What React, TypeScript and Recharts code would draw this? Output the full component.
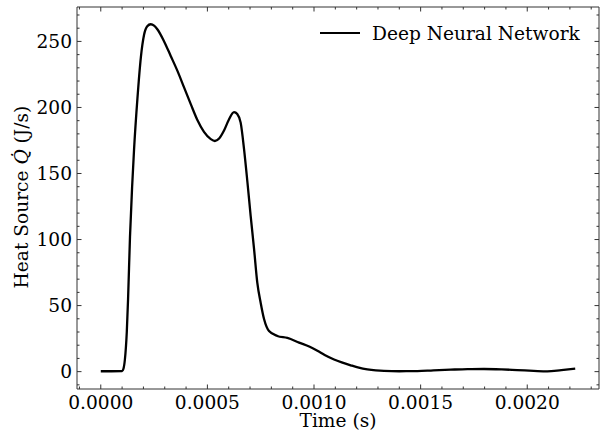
import React from "react";
import { LineChart, Line, XAxis, YAxis, Legend, Label } from "recharts";

// time in seconds, heat source in J/s
const timeS = [
  0, 0.00005, 0.0001, 0.000106, 0.000113, 0.000122, 0.000128, 0.000137,
  0.000147, 0.000156, 0.000172, 0.000188, 0.000203, 0.000218, 0.000234,
  0.00025, 0.000266, 0.000297, 0.000328, 0.00036, 0.000391, 0.000422,
  0.000453, 0.000484, 0.000516, 0.000535, 0.000555, 0.000578, 0.0006,
  0.000625, 0.00064, 0.000656, 0.000672, 0.000688, 0.000703, 0.000719,
  0.000734, 0.00075, 0.000766, 0.000789, 0.000828, 0.000875, 0.00093,
  0.00098, 0.001016, 0.00105, 0.001094, 0.00113, 0.001172, 0.00121, 0.00125,
  0.00129, 0.001328, 0.0014, 0.001485, 0.00156, 0.001641, 0.00172, 0.001797,
  0.00188, 0.001953, 0.00203, 0.002094, 0.00216, 0.002225,
];
const heatSource = [
  0.3, 0.3, 0.4, 2, 9, 30, 55, 102, 140, 168, 207, 238, 255, 261.5, 263, 262,
  259, 250, 239, 227.5, 215, 202.5, 190.5, 181.5, 176, 174.6, 176.5, 182.5,
  190.5, 196.5, 195, 188.5, 168.3, 143, 117.8, 92.6, 67.4, 52, 39.6, 30.7,
  27, 25.5, 22, 18.8, 15.8, 12.6, 9.2, 7, 4.8, 3, 1.7, 0.9, 0.5, 0.3, 0.4,
  1.0, 1.5, 1.9, 2.0, 1.7, 1.2, 0.6, 0.2, 1.2, 2.3,
];

const xTicks = [
  -0.0001, 0, 0.0001, 0.0002, 0.0003, 0.0004, 0.0005, 0.0006, 0.0007, 0.0008,
  0.0009, 0.001, 0.0011, 0.0012, 0.0013, 0.0014, 0.0015, 0.0016, 0.0017,
  0.0018, 0.0019, 0.002, 0.0021, 0.0022, 0.0023,
];
const yTicks = [
  -10, 0, 10, 20, 30, 40, 50, 60, 70, 80, 90, 100, 110, 120, 130, 140, 150,
  160, 170, 180, 190, 200, 210, 220, 230, 240, 250, 260, 270,
];

const data = timeS.map((t, i) => ({ t, q: heatSource[i] }));

const FONT = "'DejaVu Serif', serif";
const FS = 18.6;
const AX = "#333";
const isMajor = (v: number, step: number) =>
  Math.abs(v / step - Math.round(v / step)) < 1e-6;

const BottomTick = (props: any) => {
  const { x, y, payload } = props;
  const major = isMajor(payload.value, 0.0005);
  return (
    <g>
      <line x1={x} x2={x} y1={y} y2={y - (major ? 4.5 : 2.5)} stroke={AX} />
      {major && (
        <text x={x} y={y + 19.5} textAnchor="middle" fontSize={FS} fontFamily={FONT} fill="#000">
          {Math.abs(payload.value).toFixed(4)}
        </text>
      )}
    </g>
  );
};

const TopTick = (props: any) => {
  const { x, y, payload } = props;
  const major = isMajor(payload.value, 0.0005);
  return <line x1={x} x2={x} y1={y} y2={y + (major ? 4.5 : 2.5)} stroke={AX} />;
};

const LeftTick = (props: any) => {
  const { x, y, payload } = props;
  const major = isMajor(payload.value, 50);
  return (
    <g>
      <line x1={x} x2={x + (major ? 4.5 : 2.5)} y1={y} y2={y} stroke={AX} />
      {major && (
        <text x={x - 5} y={y + 6.8} textAnchor="end" fontSize={FS} fontFamily={FONT} fill="#000">
          {payload.value}
        </text>
      )}
    </g>
  );
};

const RightTick = (props: any) => {
  const { x, y, payload } = props;
  const major = isMajor(payload.value, 50);
  return <line x1={x} x2={x - (major ? 4.5 : 2.5)} y1={y} y2={y} stroke={AX} />;
};

const YTitle = () => (
  <text
    x={21}
    y={197}
    transform="rotate(-90 21 197)"
    textAnchor="middle"
    dominantBaseline="central"
    fontSize={FS}
    fontFamily={FONT}
    fill="#000"
  >
    Heat Source <tspan fontStyle="italic">Q̇</tspan> (J/s)
  </text>
);

const LegendBox = () => (
  <svg width={280} height={30}>
    <line x1={2} x2={42} y1={13} y2={13} stroke="#000" strokeWidth={2.2} />
    <text x={54} y={19.5} fontSize={FS} fontFamily={FONT} fill="#000">
      Deep Neural Network
    </text>
  </svg>
);

export default function App() {
  return (
    <div style={{ position: "absolute", left: 0, top: 0, background: "#fff" }}>
      <LineChart
        width={601}
        height={434}
        data={data}
        margin={{ top: 6, right: 1, bottom: 0, left: 0 }}
      >
        <XAxis
          dataKey="t"
          type="number"
          domain={[-0.0001115, 0.0023365]}
          allowDataOverflow
          ticks={xTicks}
          interval={0}
          tick={<BottomTick />}
          tickLine={false}
          tickSize={0}
          tickMargin={0}
          height={45}
          axisLine={{ stroke: AX }}
        >
          <Label
            content={() => (
              <text x={338} y={427} textAnchor="middle" fontSize={FS} fontFamily={FONT} fill="#000">
                Time (s)
              </text>
            )}
          />
        </XAxis>
        <XAxis
          xAxisId="top"
          orientation="top"
          dataKey="t"
          type="number"
          domain={[-0.0001115, 0.0023365]}
          allowDataOverflow
          ticks={xTicks}
          interval={0}
          tick={<TopTick />}
          tickLine={false}
          tickSize={0}
          tickMargin={0}
          height={1}
          axisLine={{ stroke: AX }}
        />
        <YAxis
          type="number"
          domain={[-13.15, 276.05]}
          allowDataOverflow
          ticks={yTicks}
          interval={0}
          tick={<LeftTick />}
          tickLine={false}
          tickSize={0}
          tickMargin={0}
          width={77}
          axisLine={{ stroke: AX }}
        >
          <Label content={() => <YTitle />} />
        </YAxis>
        <YAxis
          yAxisId="right"
          orientation="right"
          type="number"
          domain={[-13.15, 276.05]}
          allowDataOverflow
          ticks={yTicks}
          interval={0}
          tick={<RightTick />}
          tickLine={false}
          tickSize={0}
          tickMargin={0}
          width={1}
          axisLine={{ stroke: AX }}
        />
        <Legend
          layout="horizontal"
          verticalAlign="middle"
          align="center"
          content={() => <LegendBox />}
          wrapperStyle={{ position: "absolute", left: 318, top: 20, width: 282, height: 30 }}
        />
        <Line
          type="monotone"
          dataKey="q"
          stroke="#000"
          strokeWidth={2.3}
          dot={false}
          activeDot={false}
          isAnimationActive={false}
        />
      </LineChart>
    </div>
  );
}
